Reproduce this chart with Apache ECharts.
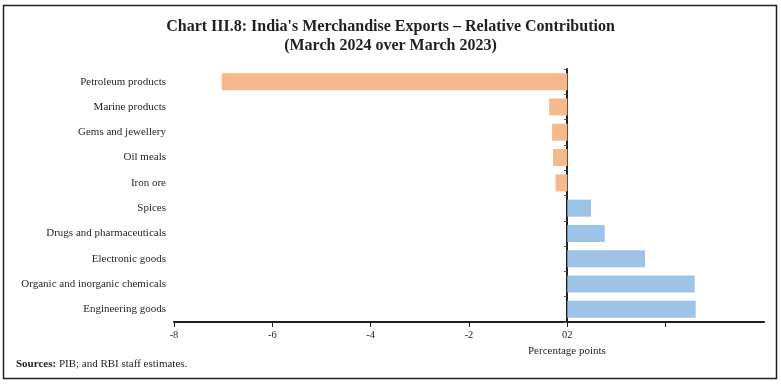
<!DOCTYPE html>
<html>
<head>
<meta charset="utf-8">
<script src="https://cdn.jsdelivr.net/npm/echarts@6/dist/echarts.min.js"></script>
<style>
html,body{margin:0;padding:0;background:#fff;}
#chart{width:781px;height:385px;}
</style>
</head>
<body>
<div id="chart"></div>
<script>
const categories = ["Petroleum products","Marine products","Gems and jewellery","Oil meals","Iron ore","Spices","Drugs and pharmaceuticals","Electronic goods","Organic and inorganic chemicals","Engineering goods"];
const values = [-7.03, -0.37, -0.31, -0.29, -0.24, 0.48, 0.76, 1.58, 2.59, 2.61];
const tickValues = [-8, -6, -4, -2, 0, 2];
const tickLabels = {"-8":"-8","-6":"-6","-4":"-4","-2":"-2","0":"02","2":"","4":""};

const NEG = '#F5B98C', POS = '#9DC3E6';
const serif = '"Liberation Serif","DejaVu Serif",serif';
const chart = echarts.init(document.getElementById('chart'));
chart.setOption({
  animation:false,
  title:{
    text:"Chart III.8: India's Merchandise Exports \u2013 Relative Contribution\n(March 2024 over March 2023)",
    left:'center', top:17, padding:0,
    textStyle:{fontFamily:serif,fontSize:16,fontWeight:'bold',color:'#231f20',lineHeight:19}
  },
  grid:{left:174,right:17,top:69,bottom:63},
  xAxis:{
    type:'value',min:-8,max:4,interval:2,
    axisLine:{show:true,onZero:false,lineStyle:{color:'#231f20',width:2}},
    axisTick:{show:true,length:5,customValues:tickValues,lineStyle:{color:'#231f20'}},
    splitLine:{show:false},
    axisLabel:{fontFamily:serif,fontSize:10.5,color:'#231f20',margin:8,
      formatter:v=>tickLabels[String(v)] ?? ''}
  },
  yAxis:[{
    type:'category',data:categories,inverse:true,position:'left',
    axisLine:{show:false},axisTick:{show:false},
    axisLabel:{fontFamily:serif,fontSize:11,color:'#231f20',margin:8}
  },{
    type:'category',data:categories,inverse:true,position:'left',offset:-393,
    axisLine:{show:true,onZero:false,lineStyle:{color:'#231f20',width:2}},
    axisTick:{show:true,length:3,lineStyle:{color:'#555'}},
    axisLabel:{show:false}
  }],
  series:[{
    type:'bar',yAxisIndex:0,barWidth:17,
    data:values.map(v=>({value:v,itemStyle:{color:v<0?NEG:POS}}))
  }],
  graphic:[
    {type:'rect',shape:{x:3.5,y:5.5,width:773,height:373},style:{fill:'none',stroke:'#231f20',lineWidth:1.5}},
    {type:'text',left:528,top:346,style:{text:'Percentage points',font:'11px '+serif,fill:'#231f20'}},
    {type:'text',left:16,top:359,style:{
      text:'{b|Sources:} PIB; and RBI staff estimates.',
      rich:{b:{fontWeight:'bold',fontFamily:serif,fontSize:11,fill:'#231f20'}},
      font:'11px '+serif,fill:'#231f20'}}
  ]
});
</script>
</body>
</html>
